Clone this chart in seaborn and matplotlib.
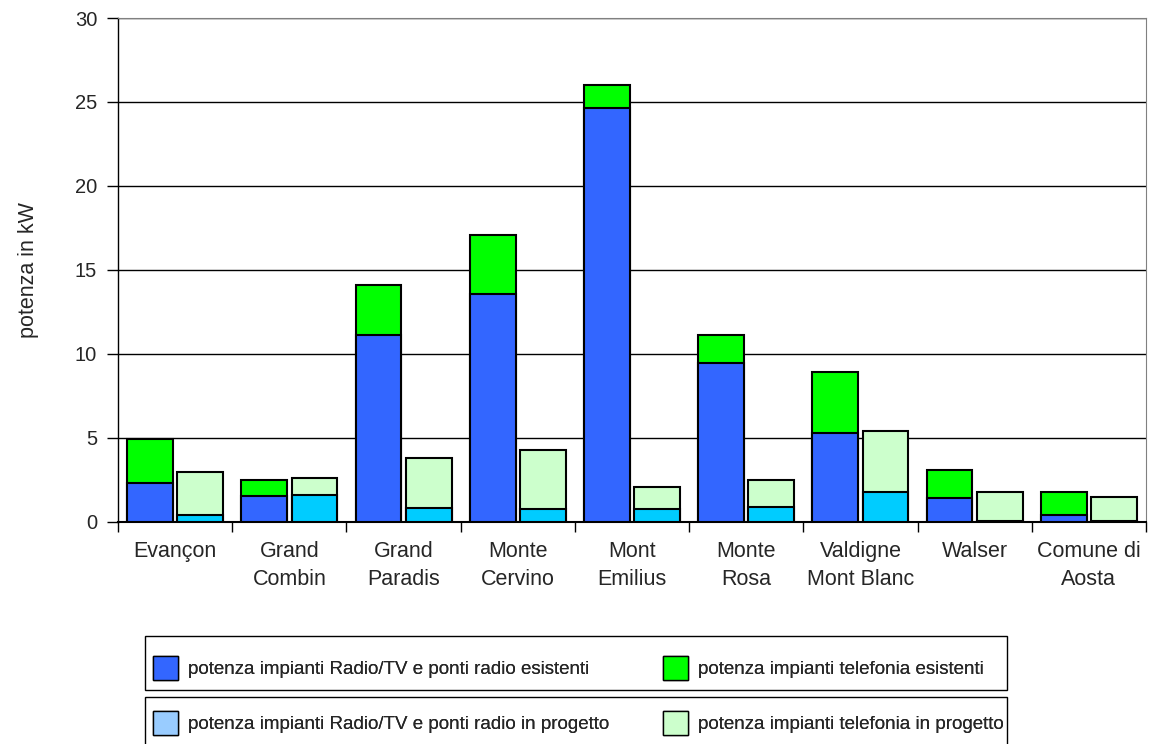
import numpy as np
import pandas as pd
import seaborn as sns
import matplotlib.pyplot as plt
from matplotlib.patches import Patch, Rectangle

# data (kW)
zones = ["Evançon", "Grand\nCombin", "Grand\nParadis", "Monte\nCervino", "Mont\nEmilius",
         "Monte\nRosa", "Valdigne\nMont Blanc", "Walser", "Comune di\nAosta"]
radio_esist = [2.3, 1.5, 11.1, 13.55, 24.65, 9.45, 5.27, 1.4, 0.37]
tel_esist = [2.6, 0.97, 2.97, 3.55, 1.35, 1.65, 3.65, 1.65, 1.37]
radio_prog = [0.38, 1.6, 0.82, 0.74, 0.73, 0.86, 1.77, 0.05, 0.05]
tel_prog = [2.58, 0.99, 2.94, 3.53, 1.32, 1.63, 3.63, 1.69, 1.4]

legend_labels = ["potenza impianti Radio/TV e ponti radio esistenti",
                 "potenza impianti telefonia esistenti",
                 "potenza impianti Radio/TV e ponti radio in progetto",
                 "potenza impianti telefonia in progetto"]
legend_colors = ["#3366ff", "#00ff00", "#99ccff", "#ccffcc"]

# long table: one row per zone and group
df = pd.DataFrame({
    "zona": zones * 2,
    "gruppo": ["esistenti"] * len(zones) + ["progetto"] * len(zones),
    "radio": radio_esist + radio_prog,
    "telefonia": tel_esist + tel_prog,
})
df["totale"] = df["radio"] + df["telefonia"]

sns.set_style("white")
plt.rcParams["font.family"] = ["Liberation Sans", "DejaVu Sans"]

W, H = 1151, 744
fig = plt.figure(figsize=(W / 100, H / 100), dpi=100)
ax = fig.add_axes([118 / W, 1 - 521.5 / H, (1146 - 118) / W, (521.5 - 18) / H])

# draw stack totals first, then the bottom segments on top of them
bar_kw = dict(order=zones, width=0.88, gap=0.09, saturation=1, edgecolor="black",
              linewidth=1.5, legend=False, ax=ax, zorder=3)
sns.barplot(data=df, x="zona", y="totale", hue="gruppo",
            palette={"esistenti": "#00ff00", "progetto": "#ccffcc"}, **bar_kw)
sns.barplot(data=df, x="zona", y="radio", hue="gruppo",
            palette={"esistenti": "#3366ff", "progetto": "#00ccff"}, **bar_kw)

ax.set_xlim(-0.5, len(zones) - 0.5)
ax.set_ylim(0, 30)
ax.set_yticks(np.arange(0, 31, 5))
ax.yaxis.grid(True, color="black", linewidth=1)
ax.set_axisbelow(True)

# ticks at category borders, labels at centres
ax.set_xticks(np.arange(-0.5, len(zones), 1))
ax.set_xticklabels([])
ax.set_xticks(np.arange(len(zones)), minor=True)
ax.set_xticklabels(zones, minor=True, fontsize=15.5, linespacing=1.45)
ax.tick_params(axis="x", which="major", direction="out", length=7, width=1, color="black", bottom=True)
ax.tick_params(axis="x", which="minor", length=0, pad=14)
ax.tick_params(axis="y", direction="out", length=8, width=1, color="black", left=True, labelsize=14.5, pad=7)

ax.set_xlabel("")
ax.set_ylabel("potenza in kW", fontsize=15.5, labelpad=26)

ax.spines["left"].set_color("black")
ax.spines["bottom"].set_color("black")
ax.spines["bottom"].set_linewidth(1.5)
ax.spines["left"].set_linewidth(1)
ax.spines["right"].set_color("#808080")
ax.spines["top"].set_color("#808080")

# two framed legend boxes below the plot, columns at fixed positions
boxes = [(636, 690), (697, 752)]
centres = [668, 723]
col_x = [153, 663]
for row, (top, bottom) in enumerate(boxes):
    fig.add_artist(Rectangle((145 / W, 1 - bottom / H), 862 / W, (bottom - top) / H,
                             transform=fig.transFigure, facecolor="none",
                             edgecolor="black", linewidth=1))
    yc = 1 - centres[row] / H
    for col in range(2):
        i = row * 2 + col
        leg = fig.legend([Patch(facecolor=legend_colors[i], edgecolor="black", linewidth=1)],
                         [legend_labels[i]], loc="center left",
                         bbox_to_anchor=(col_x[col] / W, yc), frameon=False,
                         fontsize=13.5, handlelength=1.35, handleheight=1.65,
                         handletextpad=0.5, borderpad=0, borderaxespad=0)
        fig.add_artist(leg)

plt.savefig("out.png", dpi=100)
